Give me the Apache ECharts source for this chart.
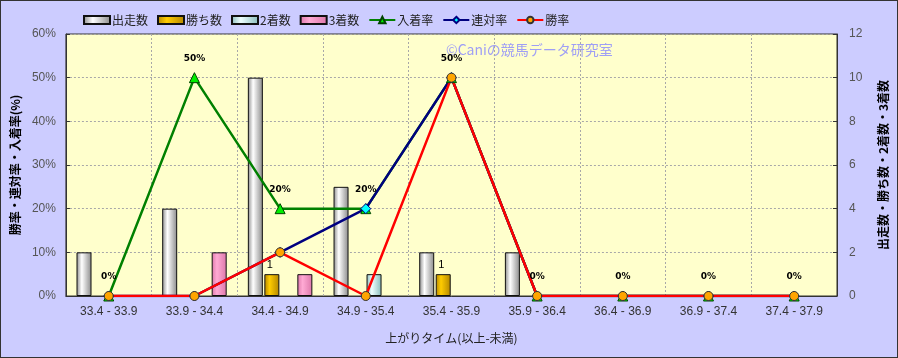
<!DOCTYPE html>
<html><head><meta charset="utf-8">
<script src="https://cdn.jsdelivr.net/npm/echarts@6/dist/echarts.min.js"></script>
<style>
html,body{margin:0;padding:0;background:#ccccff;}
#c{position:absolute;left:0;top:0;width:896px;height:356px;border:1px solid #333;background:#ccccff;}
</style></head>
<body><div id="c"></div>
<script>
const categories = ['33.4 - 33.9','33.9 - 34.4','34.4 - 34.9','34.9 - 35.4','35.4 - 35.9','35.9 - 36.4','36.4 - 36.9','36.9 - 37.4','37.4 - 37.9'];
const runs   = [2, 4, 10, 5, 2, 2, 0, 0, 0];
const wins   = [0, 0, 1, 0, 1, 0, 0, 0, 0];
const second = [0, 0, 0, 1, 0, 0, 0, 0, 0];
const third  = [0, 2, 1, 0, 0, 0, 0, 0, 0];
const placeRate = [0, 50, 20, 20, 50, 0, 0, 0, 0];
const quinellaRate = [0, 0, 10, 20, 50, 0, 0, 0, 0];
const winRate = [0, 0, 10, 0, 50, 0, 0, 0, 0];
const leftTicks = [0, 10, 20, 30, 40, 50, 60];
const rightTicks = [0, 2, 4, 6, 8, 10, 12];

const FONT = '"Noto Sans CJK JP", "Noto Sans", sans-serif';
const NARROW = '"Liberation Sans Narrow", "Liberation Sans", sans-serif';
function grad(edge, mid){
  return new echarts.graphic.LinearGradient(0,0,1,0,[
    {offset:0,color:edge},{offset:0.35,color:mid},{offset:1,color:edge}]);
}
function nz(a){ return a.map(v => v === 0 ? null : v); }
function barSeries(name, data, edge, mid, label){
  return {
    name, type:'bar', yAxisIndex:1, data: nz(data), barWidth:15, barGap:'10%',
    itemStyle:{color:grad(edge, mid), borderColor:'#111', borderWidth:1},
    label: label ? {show:true, position:'top', color:'#000', fontSize:11, fontFamily:NARROW, distance:4, offset:[-2,0]} : {show:false}
  };
}
const gridLine = {color:'#a8a8a8', type:[2,2], width:1};
const chart = echarts.init(document.getElementById('c'));
chart.setOption({
  backgroundColor:'#ccccff',
  animation:false,
  textStyle:{fontFamily:FONT},
  legend:{
    left:77, top:8, itemWidth:26, itemHeight:8, itemGap:9,
    textStyle:{fontSize:12, color:'#222', fontFamily:FONT, padding:[0,0,0,-3]},
    data:[
      {name:'出走数', icon:'rect'},{name:'勝ち数', icon:'rect'},{name:'2着数', icon:'rect'},{name:'3着数', icon:'rect'},
      '入着率','連対率','勝率']
  },
  grid:{left:64, right:53, top:33, bottom:61, show:true, backgroundColor:'#ffffcc', borderColor:'#333', borderWidth:1},
  graphic:[{type:'text', left:445, top:42, style:{text:'©Caniの競馬データ研究室', fill:'#9f9ff5', fontSize:14, fontFamily:FONT}}],
  xAxis:{
    type:'category', data:categories, boundaryGap:true,
    name:'上がりタイム(以上-未満)', nameLocation:'middle', nameGap:36,
    nameTextStyle:{fontSize:12, color:'#222', fontFamily:FONT},
    axisLine:{lineStyle:{color:'#333'}}, axisTick:{show:false},
    axisLabel:{fontSize:12, color:'#333', margin:10, interval:0, fontFamily:NARROW},
    splitLine:{show:true, lineStyle:gridLine}
  },
  yAxis:[{
    type:'value', min:0, max:60, interval:10, position:'left',
    name:'勝率・連対率・入着率(%)', nameLocation:'middle', nameGap:44, nameRotate:90,
    nameTextStyle:{fontSize:12, color:'#000', fontWeight:'bold', fontFamily:FONT},
    axisLine:{show:true, lineStyle:{color:'#333'}}, axisTick:{show:true, inside:true, length:4, lineStyle:{color:'#333'}},
    axisLabel:{fontSize:12, color:'#555', margin:10, fontFamily:NARROW, formatter:v => leftTicks.includes(v) ? v + '%' : ''},
    splitLine:{show:true, lineStyle:gridLine}
  },{
    type:'value', min:0, max:12, interval:2, position:'right',
    name:'出走数・勝ち数・2着数・3着数', nameLocation:'middle', nameGap:40, nameRotate:90,
    nameTextStyle:{fontSize:12, color:'#000', fontWeight:'bold', fontFamily:FONT},
    axisLine:{show:true, lineStyle:{color:'#333'}}, axisTick:{show:true, inside:true, length:4, lineStyle:{color:'#333'}},
    axisLabel:{fontSize:12, color:'#555', margin:12, fontFamily:NARROW, formatter:v => rightTicks.includes(v) ? String(v) : ''},
    splitLine:{show:false}
  }],
  series:[
    barSeries('出走数', runs, '#8a8a8a', '#ffffff', false),
    barSeries('勝ち数', wins, '#b38600', '#ffcc00', true),
    barSeries('2着数', second, '#88bbbb', '#eeffff', false),
    barSeries('3着数', third, '#dd77aa', '#ffaad4', false),
    {name:'入着率', type:'line', yAxisIndex:0, data:placeRate, symbol:'triangle', symbolSize:10,
      lineStyle:{color:'#008000', width:2.5}, itemStyle:{color:'#00ee00', borderColor:'#004400', borderWidth:1},
      label:{show:true, position:'top', distance:9, formatter:'{c}%', fontSize:9, fontWeight:'bold', color:'#000', fontFamily:'"DejaVu Sans", sans-serif'}},
    {name:'連対率', type:'line', yAxisIndex:0, data:quinellaRate, symbol:'diamond', symbolSize:10,
      lineStyle:{color:'#000080', width:2.5}, itemStyle:{color:'#00ffff', borderColor:'#000080', borderWidth:1}},
    {name:'勝率', type:'line', yAxisIndex:0, data:winRate, symbol:'circle', symbolSize:9,
      lineStyle:{color:'#ff0000', width:2.5}, itemStyle:{color:'#ffa500', borderColor:'#333', borderWidth:1}}
  ]
});
</script></body></html>
